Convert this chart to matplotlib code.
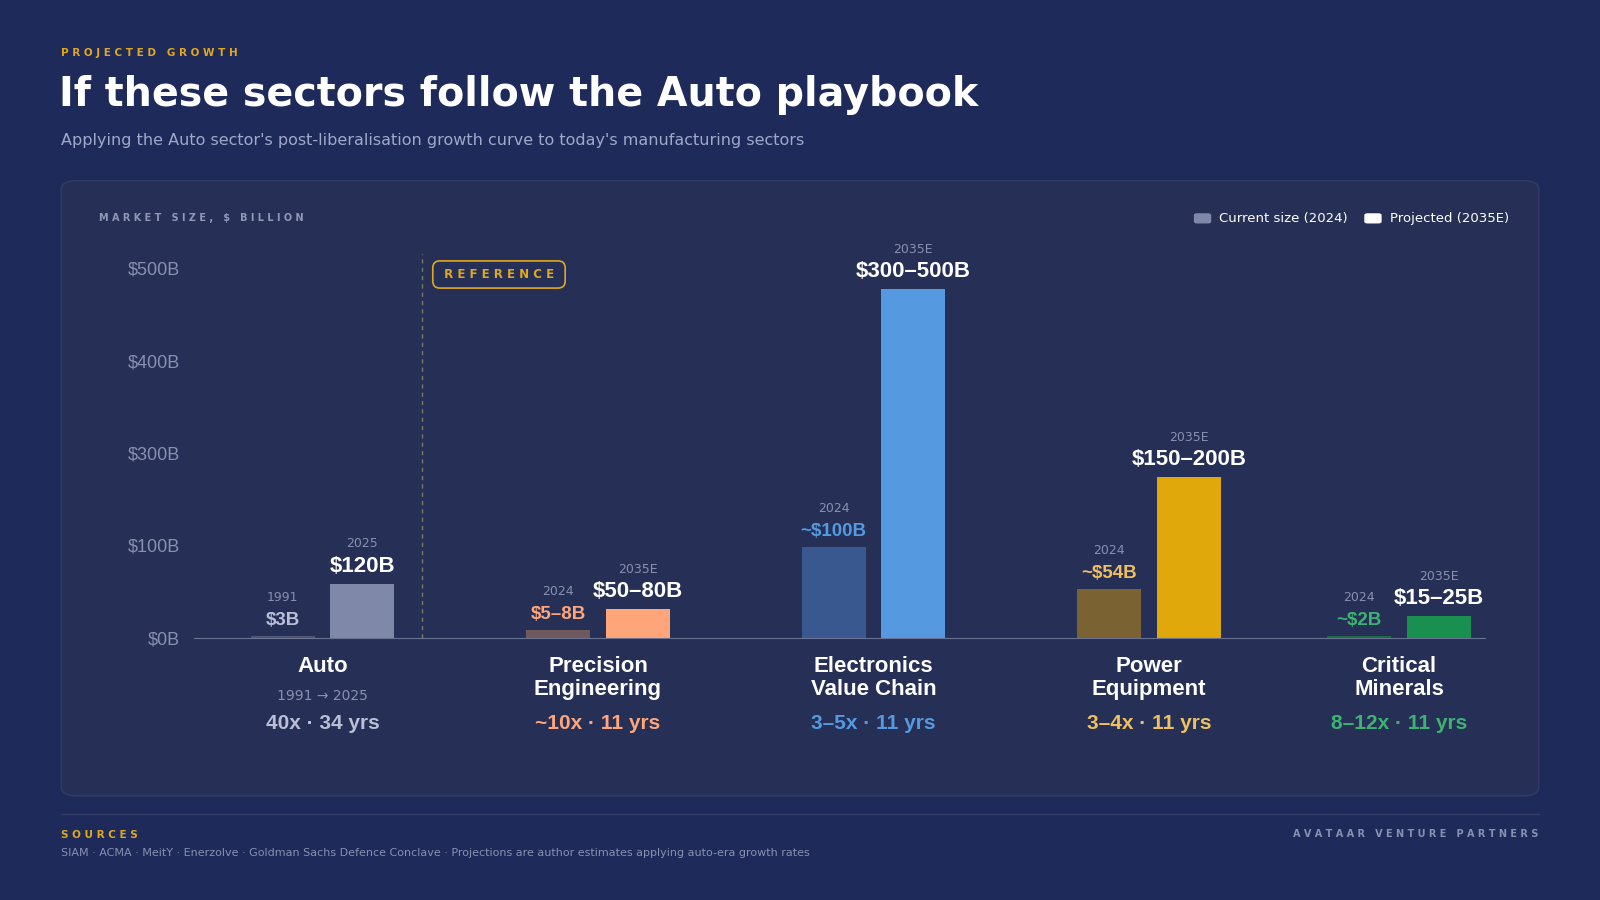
import matplotlib.pyplot as plt
from matplotlib.patches import FancyBboxPatch

sectors = ["Auto", "Precision\nEngineering", "Electronics\nValue Chain", "Power\nEquipment", "Critical\nMinerals"]
current_vals = [3, 10, 123, 66, 3]
projected_vals = [73, 39, 472, 217, 29]
current_labels = ["$3B", "$5–8B", "~$100B", "~$54B", "~$2B"]
projected_labels = ["$120B", "$50–80B", "$300–500B", "$150–200B", "$15–25B"]
current_years = ["1991", "2024", "2024", "2024", "2024"]
projected_years = ["2025", "2035E", "2035E", "2035E", "2035E"]
growth = ["40x · 34 yrs", "~10x · 11 yrs", "3–5x · 11 yrs", "3–4x · 11 yrs", "8–12x · 11 yrs"]
ytick_vals = [0, 125, 250, 375, 500]
ytick_labels = ["$0B", "$100B", "$300B", "$400B", "$500B"]

centers = [316, 586, 856, 1126, 1371]
cur_col = ["#4e5674", "#6e5a5e", "#3a5890", "#7a6232", "#1c6a48"]
proj_col = ["#7f88a8", "#ffa57a", "#5599e0", "#e0a80a", "#1a9050"]
lab_col = ["#b8bfd6", "#ffa57a", "#5599e0", "#f0c060", "#3cb371"]
BG = "#1e2a5a"
PANEL = "#263056"
ARIAL = ["Liberation Sans", "DejaVu Sans"]

fig = plt.figure(figsize=(16, 9), dpi=100, facecolor=BG)
W, H = 1568, 882
def fx(x): return x / W
def fy(y): return 1 - y / H

panel = FancyBboxPatch((fx(60), fy(780)), fx(1448), (780 - 177) / H,
                       boxstyle="round,pad=0,rounding_size=0.01", transform=fig.transFigure,
                       facecolor=PANEL, edgecolor="#323c66", lw=1, zorder=-5)
fig.patches.append(panel)

fig.text(fx(60), fy(52), "P R O J E C T E D   G R O W T H", color="#e0a820", fontsize=7.5, weight="bold", va="center")
fig.text(fx(58), fy(93), "If these sectors follow the Auto playbook", color="white", fontsize=28.5, weight="bold", va="center")
fig.text(fx(60), fy(138), "Applying the Auto sector's post-liberalisation growth curve to today's manufacturing sectors",
         color="#a0a8c8", fontsize=11.5, va="center")
fig.text(fx(97), fy(214), "M A R K E T   S I Z E ,   $   B I L L I O N", color="#9098b8", fontsize=7, weight="bold", va="center")

ax = fig.add_axes([fx(190), fy(625), (1455 - 190) / W, (625 - 263) / H])
ax.set_facecolor("none")
ax.set_xlim(190, 1455)
ax.set_ylim(0, 500)
for s in ["top", "right", "left"]:
    ax.spines[s].set_visible(False)
ax.spines["bottom"].set_color("#6a7294")
ax.set_xticks([])
ax.set_yticks(ytick_vals)
ax.set_yticklabels(ytick_labels, color="#8890b0", fontsize=13, family=ARIAL)
ax.tick_params(axis="y", length=0, pad=10)

bw = 63
off = 39
for i, c in enumerate(centers):
    ax.bar(c - off, current_vals[i], bw, color=cur_col[i])
    ax.bar(c + off, projected_vals[i], bw, color=proj_col[i])
    ax.annotate(current_labels[i], (c - off, current_vals[i]), xytext=(0, 5), textcoords="offset points",
                ha="center", va="bottom", color=lab_col[i], fontsize=13.5, weight="bold", family=ARIAL)
    ax.annotate(current_years[i], (c - off, current_vals[i]), xytext=(0, 23), textcoords="offset points",
                ha="center", va="bottom", color="#8890b0", fontsize=9)
    ax.annotate(projected_labels[i], (c + off, projected_vals[i]), xytext=(0, 5), textcoords="offset points",
                ha="center", va="bottom", color="white", fontsize=16, weight="bold", family=ARIAL)
    ax.annotate(projected_years[i], (c + off, projected_vals[i]), xytext=(0, 24), textcoords="offset points",
                ha="center", va="bottom", color="#8890b0", fontsize=9)
    fig.text(fx(c), fy(643), sectors[i], ha="center", va="top", color="white", fontsize=16,
             weight="bold", linespacing=1.1, family=ARIAL)
    fig.text(fx(c), fy(709), growth[i], ha="center", va="center", color=lab_col[i],
             fontsize=15, weight="bold", family=ARIAL)
fig.text(fx(316), fy(682), "1991 → 2025", ha="center", va="center", color="#8890b0", fontsize=10)

ax.plot([414, 414], [0, 520], ls=(0, (3, 3)), color="#7a7a60", lw=1, clip_on=False)
fig.text(fx(489), fy(269), " R E F E R E N C E ", ha="center", va="center", color="#e0a820", fontsize=8.5,
         weight="bold", bbox=dict(boxstyle="round,pad=0.6", fc=PANEL, ec="#e0a820", lw=1.2))

fig.patches.append(FancyBboxPatch((fx(1170), fy(219)), fx(17), 10 / H, boxstyle="round,pad=0,rounding_size=0.002",
                                  transform=fig.transFigure, fc="#7f88a8", ec="none"))
fig.text(fx(1195), fy(214), "Current size (2024)", color="white", fontsize=9.5, va="center")
fig.patches.append(FancyBboxPatch((fx(1337), fy(219)), fx(17), 10 / H, boxstyle="round,pad=0,rounding_size=0.002",
                                  transform=fig.transFigure, fc="white", ec="none"))
fig.text(fx(1362), fy(214), "Projected (2035E)", color="white", fontsize=9.5, va="center")

fig.add_artist(plt.Line2D([fx(60), fx(1508)], [fy(798), fy(798)], color="#323c66", lw=1))
fig.text(fx(60), fy(818), "S O U R C E S", color="#e0a820", fontsize=7.5, weight="bold", va="center")
fig.text(fx(60), fy(836), "SIAM · ACMA · MeitY · Enerzolve · Goldman Sachs Defence Conclave · Projections are author estimates applying auto-era growth rates",
         color="#8890b0", fontsize=8, va="center")
fig.text(fx(1508), fy(817), "A V A T A A R   V E N T U R E   P A R T N E R S", color="#8890b0", fontsize=7, weight="bold",
         va="center", ha="right")

fig.savefig("out.png", dpi=100, facecolor=BG)
